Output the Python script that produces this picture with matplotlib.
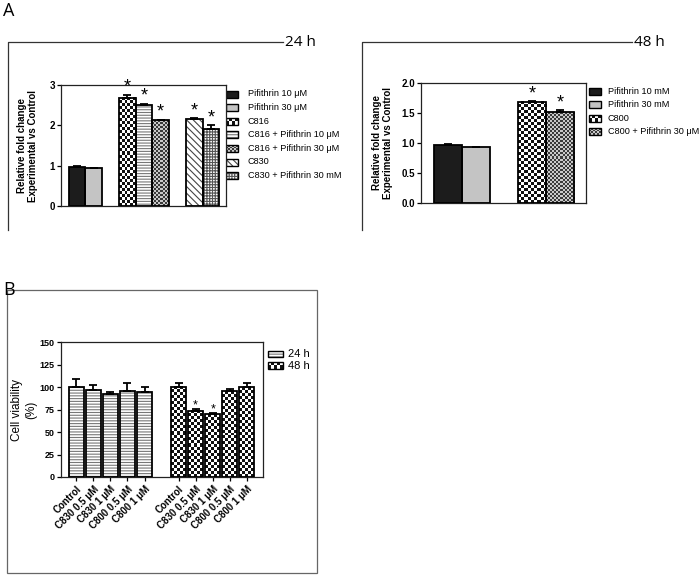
import numpy as np
import matplotlib
matplotlib.use("Agg")
import matplotlib.pyplot as plt
from matplotlib.colors import ListedColormap
from matplotlib.patches import Rectangle

plt.rcParams["font.family"] = ["Liberation Sans", "DejaVu Sans"]
plt.rcParams["hatch.linewidth"] = 0.8

W, H = 700, 575

# ---- panel A, 24 h ----
labels24 = ["Pifithrin 10 μM", "Pifithrin 30 μM", "C816", "C816 + Pifithrin 10 μM",
            "C816 + Pifithrin 30 μM", "C830", "C830 + Pifithrin 30 mM"]
pos24 = [0, 1, 3, 4, 5, 7, 8]
vals24 = [0.97, 0.94, 2.69, 2.50, 2.12, 2.16, 1.92]
err24 = [0.01, 0.0, 0.07, 0.04, 0.02, 0.02, 0.09]
sig24 = [False, False, True, True, True, True, True]
style24 = ["black", "grey", "checker", "hlines", "fine", "diag", "grid"]

# ---- panel A, 48 h ----
labels48 = ["Pifithrin 10 mM", "Pifithrin 30 mM", "C800", "C800 + Pifithrin 30 μM"]
pos48 = [0, 1, 3, 4]
vals48 = [0.97, 0.94, 1.69, 1.51]
err48 = [0.01, 0.0, 0.01, 0.04]
sig48 = [False, False, True, True]
style48 = ["black", "grey", "checker", "fine"]

# ---- panel B, cell viability ----
treatments = ["Control", "C830 0.5 μM", "C830 1 μM", "C800 0.5 μM", "C800 1 μM"]
times = ["24 h", "48 h"]
via24 = [100.5, 96.6, 92.0, 95.5, 94.8]
verr24 = [8.5, 6.0, 3.0, 9.5, 5.5]
via48 = [100.2, 73.5, 69.8, 95.5, 100.0]
verr48 = [4.0, 2.5, 1.5, 2.5, 4.0]
vsig48 = [False, True, True, False, False]
styleB = ["hlines", "checker"]


def px_axes(fig, l, t, r, b):
    return fig.add_axes([l / W, 1 - b / H, (r - l) / W, (b - t) / H])


def checker(ax, x0, x1, y0, y1, cell, c1, c2):
    p0 = ax.transData.transform((x0, y0))
    p1 = ax.transData.transform((x1, y1))
    nx = max(1, int(round(abs(p1[0] - p0[0]) / cell)))
    ny = max(1, int(round(abs(p1[1] - p0[1]) / cell)))
    grid = np.indices((ny, nx)).sum(axis=0) % 2
    ax.imshow(grid, extent=(x0, x1, y0, y1), cmap=ListedColormap([c1, c2]),
              vmin=0, vmax=1, interpolation="nearest", aspect="auto", zorder=1)


def fill_pattern(ax, x0, x1, y0, y1, style, lw=1.3):
    w, h = x1 - x0, y1 - y0
    if style == "black":
        ax.add_patch(Rectangle((x0, y0), w, h, fc="#1c1c1c", lw=0, zorder=1))
    elif style == "grey":
        ax.add_patch(Rectangle((x0, y0), w, h, fc="#c4c4c4", lw=0, zorder=1))
    elif style == "checker":
        checker(ax, x0, x1, y0, y1, 3, "white", "#111111")
    elif style == "fine":
        checker(ax, x0, x1, y0, y1, 2, "#c8c8c8", "#3a3a3a")
    elif style == "hlines":
        ax.add_patch(Rectangle((x0, y0), w, h, fc="white", ec="#777777", lw=0,
                               hatch="------", zorder=1))
    elif style == "diag":
        ax.add_patch(Rectangle((x0, y0), w, h, fc="white", ec="#444444", lw=0,
                               hatch="\\\\\\\\\\", zorder=1))
    elif style == "grid":
        ax.add_patch(Rectangle((x0, y0), w, h, fc="white", ec="#555555", lw=0,
                               hatch="++++++", zorder=1))
    ax.add_patch(Rectangle((x0, y0), w, h, fc="none", ec="black", lw=lw, zorder=3))


def style_axes(ax, fs=7):
    for sp in ax.spines.values():
        sp.set_linewidth(0.9)
        sp.set_color("#222222")
    ax.tick_params(axis="y", direction="out", length=3, width=0.9, labelsize=fs, pad=1.5)
    for lab in ax.get_yticklabels():
        lab.set_fontweight("bold")


def bars(ax, pos, vals, errs, sigs, styles, width, star_fs, star_off, capsize):
    for x, v, s in zip(pos, vals, styles):
        fill_pattern(ax, x - width / 2, x + width / 2, 0, v, s)
    ax.errorbar(pos, vals, yerr=[np.zeros(len(errs)), errs], fmt="none", ecolor="black",
                elinewidth=1.3, capsize=capsize, capthick=1.3, zorder=4)
    for x, v, e, sg in zip(pos, vals, errs, sigs):
        if sg:
            ax.text(x, v + e + star_off, "*", ha="center", va="bottom",
                    fontsize=star_fs, zorder=5)


fig = plt.figure(figsize=(W / 100, H / 100), dpi=100)

# overlay for brackets, boxes, letters, legends (pixel coordinates)
ov = fig.add_axes([0, 0, 1, 1], zorder=0)
ov.set_xlim(0, W)
ov.set_ylim(H, 0)
ov.axis("off")
ov.patch.set_visible(False)

lbl_font = ["Open Sans", "DejaVu Sans"]
ov.text(3, 2, "A", fontsize=13, va="top", ha="left", family=lbl_font)
ov.text(3, 281, "B", fontsize=13, va="top", ha="left", family=lbl_font)

# brackets for 24 h and 48 h
ov.plot([8, 8, 283], [230, 42, 42], color="#333333", lw=0.9)
ov.text(285, 42, "24 h", fontsize=11, va="center", ha="left", family=lbl_font)
ov.plot([362, 362, 632], [230, 42, 42], color="#333333", lw=0.9)
ov.text(634, 42, "48 h", fontsize=11, va="center", ha="left", family=lbl_font)

# box round panel B
ov.add_patch(Rectangle((7, 290), 310, 283, fc="none", ec="#666666", lw=0.9))

# ---- 24 h axes ----
ax24 = px_axes(fig, 61, 85, 226, 206)
ax24.set_xlim(-0.96, 8.9)
ax24.set_ylim(0, 3)
ax24.set_yticks([0, 1, 2, 3])
ax24.set_xticks([])
bars(ax24, pos24, vals24, err24, sig24, style24, 1.0, 13, -0.03, 2.8)
ax24.set_ylabel("Relative fold change\nExperimental vs Control", fontsize=7,
                fontweight="bold", labelpad=8, linespacing=1.1)
style_axes(ax24)

# ---- 48 h axes ----
ax48 = px_axes(fig, 421, 83, 586, 203)
ax48.set_xlim(-0.96, 4.93)
ax48.set_ylim(0, 2)
ax48.set_yticks([0, 0.5, 1.0, 1.5, 2.0])
ax48.set_yticklabels(["0.0", "0.5", "1.0", "1.5", "2.0"])
ax48.set_xticks([])
bars(ax48, pos48, vals48, err48, sig48, style48, 1.0, 13, -0.02, 2.8)
ax48.set_ylabel("Relative fold change\nExperimental vs Control", fontsize=7,
                fontweight="bold", labelpad=6, linespacing=1.1)
style_axes(ax48)

# ---- panel B axes ----
axB = px_axes(fig, 61, 342, 263, 477)
axB.set_xlim(-0.9, 10.95)
axB.set_ylim(0, 150)
axB.set_yticks(np.arange(0, 151, 25))
n = len(treatments)
posB1 = list(range(n))
posB2 = [p + n + 1 for p in range(n)]
bars(axB, posB1, via24, verr24, [False] * n, [styleB[0]] * n, 0.87, 9, -3.0, 2.8)
bars(axB, posB2, via48, verr48, vsig48, [styleB[1]] * n, 0.87, 9, -3.0, 2.8)
axB.set_xticks(posB1 + posB2)
axB.set_xticklabels(treatments + treatments, rotation=45, ha="right",
                    rotation_mode="anchor", fontsize=7, fontweight="bold")
axB.tick_params(axis="x", direction="out", length=3, width=0.9, pad=2)
axB.set_ylabel("Cell viability\n(%)", fontsize=8.5, labelpad=2, linespacing=1.15)
style_axes(axB, fs=6.5)

# ---- legends drawn in pixel coordinates ----
def legend(x0, y0, step, sw, sh, labels, styles, fs, tx):
    for i, (lab, st) in enumerate(zip(labels, styles)):
        yc = y0 + i * step
        fill_pattern(ov, x0, x0 + sw, yc + sh / 2, yc - sh / 2, st, lw=1.0)
        ov.text(tx, yc, lab, fontsize=fs, va="center", ha="left")


legend(226, 94, 13.6, 12, 7, labels24, style24, 6.6, 248)
legend(589, 91, 13.6, 12, 7, labels48, style48, 6.6, 608)
legend(268, 354, 11.7, 15, 6.5, times, styleB, 8, 288)

ov.set_xlim(0, W)
ov.set_ylim(H, 0)

fig.savefig("out.png", dpi=100)
